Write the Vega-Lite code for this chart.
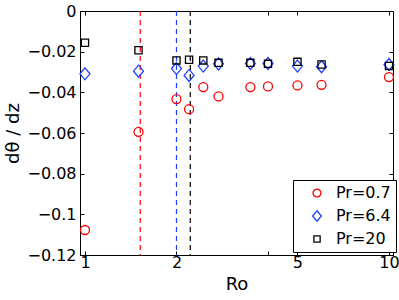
{
  "$schema": "https://vega.github.io/schema/vega-lite/v6.json",
  "autosize": "none",
  "width": 313,
  "height": 244,
  "padding": {"left": 80, "top": 11, "right": 6, "bottom": 45},
  "config": {
    "font": "DejaVu Sans",
    "view": {"stroke": "black", "strokeWidth": 1},
    "axis": {"grid": false, "domainColor": "black", "tickColor": "black", "labelColor": "black", "titleColor": "black", "labelFont": "DejaVu Sans", "titleFont": "DejaVu Sans", "labelFontSize": 16, "titleFontSize": 18, "titleFontWeight": "normal", "tickSize": -4, "domainWidth": 1, "tickWidth": 1},
    "legend": {"labelFont": "DejaVu Sans", "labelFontSize": 16, "labelColor": "black"}
  },
  "datasets": {
    "pts": [
      {"Ro": 1, "v": -0.1077, "series": "Pr=0.7"},
      {"Ro": 1.5, "v": -0.0594, "series": "Pr=0.7"},
      {"Ro": 2, "v": -0.0433, "series": "Pr=0.7"},
      {"Ro": 2.2, "v": -0.0483, "series": "Pr=0.7"},
      {"Ro": 2.45, "v": -0.0374, "series": "Pr=0.7"},
      {"Ro": 2.75, "v": -0.042, "series": "Pr=0.7"},
      {"Ro": 3.5, "v": -0.0374, "series": "Pr=0.7"},
      {"Ro": 4, "v": -0.0371, "series": "Pr=0.7"},
      {"Ro": 5, "v": -0.0366, "series": "Pr=0.7"},
      {"Ro": 6, "v": -0.0363, "series": "Pr=0.7"},
      {"Ro": 10, "v": -0.0325, "series": "Pr=0.7"},
      {"Ro": 1, "v": -0.0309, "series": "Pr=6.4"},
      {"Ro": 1.5, "v": -0.0296, "series": "Pr=6.4"},
      {"Ro": 2, "v": -0.0283, "series": "Pr=6.4"},
      {"Ro": 2.2, "v": -0.0317, "series": "Pr=6.4"},
      {"Ro": 2.45, "v": -0.0271, "series": "Pr=6.4"},
      {"Ro": 2.75, "v": -0.026, "series": "Pr=6.4"},
      {"Ro": 3.5, "v": -0.0258, "series": "Pr=6.4"},
      {"Ro": 4, "v": -0.0258, "series": "Pr=6.4"},
      {"Ro": 5, "v": -0.0271, "series": "Pr=6.4"},
      {"Ro": 6, "v": -0.0274, "series": "Pr=6.4"},
      {"Ro": 10, "v": -0.0263, "series": "Pr=6.4"},
      {"Ro": 1, "v": -0.0156, "series": "Pr=20"},
      {"Ro": 1.5, "v": -0.0193, "series": "Pr=20"},
      {"Ro": 2, "v": -0.0243, "series": "Pr=20"},
      {"Ro": 2.2, "v": -0.024, "series": "Pr=20"},
      {"Ro": 2.45, "v": -0.0243, "series": "Pr=20"},
      {"Ro": 2.75, "v": -0.0255, "series": "Pr=20"},
      {"Ro": 3.5, "v": -0.0255, "series": "Pr=20"},
      {"Ro": 4, "v": -0.026, "series": "Pr=20"},
      {"Ro": 5, "v": -0.025, "series": "Pr=20"},
      {"Ro": 6, "v": -0.0263, "series": "Pr=20"},
      {"Ro": 10, "v": -0.027, "series": "Pr=20"}
    ]
  },
  "resolve": {"axis": {"x": "independent", "y": "independent"}},
  "layer": [
    {
      "data": {"values": [{"Ro": 1.52}]},
      "mark": {"type": "rule", "color": "#ff0000", "strokeDash": [5, 4], "strokeWidth": 1.2},
      "encoding": {"x": {"field": "Ro", "type": "quantitative", "axis": null, "scale": {"type": "log", "domain": [0.963, 10.31], "nice": false}}}
    },
    {
      "data": {"values": [{"Ro": 2.0}]},
      "mark": {"type": "rule", "color": "#1f3fff", "strokeDash": [5, 4], "strokeWidth": 1.2},
      "encoding": {"x": {"field": "Ro", "type": "quantitative", "axis": null}}
    },
    {
      "data": {"values": [{"Ro": 2.22}]},
      "mark": {"type": "rule", "color": "#000000", "strokeDash": [5, 4], "strokeWidth": 1.2},
      "encoding": {"x": {"field": "Ro", "type": "quantitative", "axis": null}}
    },
    {
      "data": {"name": "pts"},
      "mark": {"type": "point", "filled": false, "strokeWidth": 1.3, "opacity": 1, "size": 144},
      "encoding": {
        "x": {"field": "Ro", "type": "quantitative", "title": "Ro",
          "axis": {"orient": "bottom", "values": [1, 2, 4, 5, 10], "labelExpr": "datum.value == 4 ? '' : datum.label", "labelPadding": 3, "titlePadding": 5, "labelFlush": false}},
        "y": {"field": "v", "type": "quantitative", "title": "dθ / dz",
          "scale": {"domain": [-0.12, 0], "nice": false, "zero": false},
          "axis": {"orient": "left", "values": [0, -0.02, -0.04, -0.06, -0.08, -0.1, -0.12], "format": ".2~f", "labelPadding": 8, "titlePadding": 4, "labelFlush": false}},
        "color": {"field": "series", "type": "nominal",
          "scale": {"domain": ["Pr=0.7", "Pr=6.4", "Pr=20"], "range": ["#ff0000", "#1f3fff", "#000000"]},
          "legend": {"title": null, "orient": "none", "legendX": 213, "legendY": 169, "padding": 5, "symbolOffset": 11, "labelOffset": 11, "rowPadding": 7, "symbolSize": 110, "strokeColor": "black", "fillColor": "white", "cornerRadius": 0, "symbolStrokeWidth": 1.3, "symbolFillColor": "transparent"}},
        "shape": {"field": "series", "type": "nominal",
          "scale": {"domain": ["Pr=0.7", "Pr=6.4", "Pr=20"], "range": ["M0.75,0A0.75,0.75 0 1,1 -0.75,0A0.75,0.75 0 1,1 0.75,0Z", "M0,-1L0.83,0L0,1L-0.83,0Z", "M-0.6,-0.6L0.6,-0.6L0.6,0.6L-0.6,0.6Z"]}}
      }
    },
    {
      "data": {"name": "pts"},
      "mark": {"type": "point", "opacity": 0},
      "encoding": {
        "x": {"field": "Ro", "type": "quantitative", "axis": {"orient": "top", "values": [1, 2, 4, 5, 10], "labels": false, "title": null}},
        "y": {"field": "v", "type": "quantitative", "scale": {"domain": [-0.12, 0], "nice": false, "zero": false}, "axis": {"orient": "right", "values": [0, -0.02, -0.04, -0.06, -0.08, -0.1, -0.12], "labels": false, "title": null}}
      }
    }
  ]
}
